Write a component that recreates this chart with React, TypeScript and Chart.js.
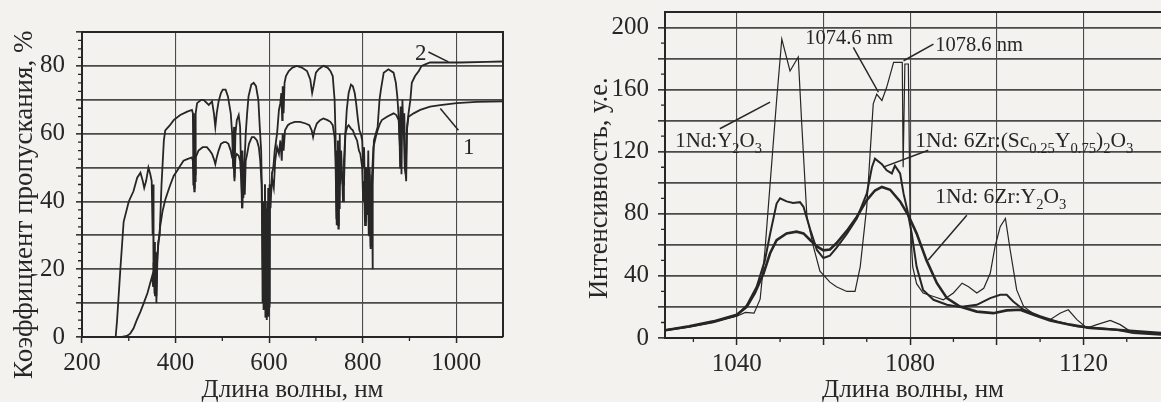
import React, { useEffect, useRef } from "react";
import { Chart, registerables } from "chart.js";

Chart.register(...registerables);

const FONT = "'Liberation Serif', 'Times New Roman', serif";
const INK = "#262626";
const GRID = "#4a4a4a";
const PAPER = "#f3f2ef";

// ---------- Left chart: transmission spectra (curves 1 and 2) ----------
const trWavelength2 = [272, 275, 282, 289, 300, 310, 318, 325, 330, 333, 337, 342, 346, 349, 351, 352, 353, 355, 356, 358, 359, 361, 363, 366, 370, 375, 378, 388, 396, 410, 425, 435, 437, 438, 439, 440, 441, 442, 443, 446, 455, 460, 471, 478, 482, 485, 488, 492, 497, 501, 507, 512, 518, 521, 523, 525, 526, 528, 531, 535, 538, 540, 542, 543, 545, 547, 550, 553, 556, 562, 567, 572, 577, 580, 583, 585, 586, 587, 588, 589, 590, 591, 592, 593, 594, 595, 596, 597, 598, 599, 600, 601, 603, 606, 609, 612, 617, 621, 624, 626, 628, 629, 631, 633, 636, 642, 650, 659, 670, 681, 688, 692, 695, 700, 706, 716, 725, 731, 736, 740, 742, 743, 744, 745, 746, 747, 748, 749, 750, 751, 752, 754, 756, 758, 760, 763, 766, 770, 775, 779, 783, 786, 790, 793, 796, 799, 801, 803, 805, 807, 808, 810, 812, 814, 815, 817, 818, 820, 821, 822, 824, 828, 832, 836, 839, 845, 855, 866, 871, 874, 877, 879, 880, 881, 883, 885, 887, 889, 891, 893, 895, 898, 902, 905, 912, 920, 926, 935, 944, 973, 1008, 1065, 1100];
const trCurve2 = [0, 5, 20, 34, 40, 43, 47, 48.5, 46, 44, 46, 50, 48, 46, 30, 45, 15, 28, 12, 25, 10, 22, 28, 30, 45, 58, 61, 62.5, 64, 65.5, 66.5, 67, 66, 50, 66, 44, 60, 48, 66, 69, 70, 70, 68.5, 69.5, 66, 62, 66, 69.5, 72, 73, 73, 71, 66, 60, 50, 62, 47, 60, 64, 65.5, 62, 50, 38, 55, 41, 50, 60, 66, 71, 74.5, 75, 74, 70, 62, 55, 40, 10, 35, 8, 30, 12, 45, 10, 38, 6, 30, 8, 40, 7, 35, 9, 45, 38, 48, 50, 55, 60, 67, 69, 72, 64, 74, 66, 75, 77, 78.5, 79.5, 80, 79.5, 78.5, 76, 72, 74, 78, 79, 80, 79.5, 78.5, 77, 70, 60, 45, 33, 55, 40, 58, 32, 55, 38, 60, 45, 55, 48, 40, 45, 60, 67, 72, 74.5, 74, 72, 69, 64, 61, 60, 58, 50, 56, 42, 34, 50, 38, 55, 30, 50, 26, 45, 40, 20, 45, 58, 60, 62, 70, 73, 78, 79, 78, 75, 71, 65, 58, 50, 68, 48, 70, 60, 66, 50, 46, 62, 66, 70, 75, 77, 78.5, 80, 80.5, 81, 81, 81, 81.2, 81.3];

const trWavelength1 = [272, 285, 296, 303, 310, 317, 325, 332, 340, 346, 350, 352, 353, 355, 356, 357, 359, 361, 363, 367, 372, 378, 384, 389, 396, 403, 410, 417, 425, 435, 437, 438, 439, 440, 441, 442, 443, 449, 458, 467, 473, 478, 482, 485, 488, 492, 497, 503, 508, 513, 518, 521, 524, 526, 528, 531, 535, 538, 541, 543, 545, 548, 550, 553, 557, 563, 568, 574, 578, 581, 584, 586, 587, 588, 589, 590, 591, 592, 593, 595, 596, 597, 598, 599, 600, 601, 602, 604, 606, 610, 613, 617, 621, 624, 627, 629, 631, 634, 640, 645, 655, 666, 678, 686, 691, 694, 697, 702, 709, 716, 725, 731, 736, 740, 742, 744, 745, 746, 747, 748, 749, 750, 752, 755, 758, 760, 763, 767, 770, 775, 779, 783, 788, 792, 795, 799, 801, 803, 805, 807, 809, 811, 813, 815, 817, 819, 823, 828, 832, 837, 841, 852, 866, 872, 877, 879, 881, 883, 886, 888, 890, 892, 894, 896, 898, 909, 923, 944, 966, 1001, 1044, 1100];
const trCurve1 = [0, 0, 0.3, 1, 2.5, 5, 7.5, 10, 13, 16, 18, 15, 22, 13, 25, 18, 12, 24, 27, 32.5, 37, 40.5, 43, 45, 47.5, 49, 50.5, 52, 52.5, 53, 52, 45, 52, 43, 50, 46, 53, 55, 56, 56, 55, 54, 52.5, 51, 53, 55, 57, 57.5, 57.5, 57, 55, 53, 52, 46, 53, 54, 53.5, 52, 45, 38, 50, 42, 52, 54, 57, 59, 59, 58, 56, 52, 45, 20, 40, 8, 38, 10, 45, 6, 40, 5, 35, 8, 44, 6, 40, 10, 45, 42, 47, 44, 52, 56, 54, 58, 52, 60, 55, 61, 62.5, 63, 63.5, 63.5, 63, 62.5, 61, 59, 61, 63, 64, 64.5, 64, 63.5, 62.5, 59, 52, 35, 50, 38, 55, 33, 52, 40, 50, 49, 45, 52, 60, 62, 62.5, 61.5, 61, 59.5, 58, 55, 54, 50, 40, 46, 33, 50, 36, 48, 30, 48, 26.6, 45, 56, 59, 61, 63, 64, 65, 66, 65.5, 64, 58, 52, 62, 65, 60, 50, 48, 60, 63, 65, 66, 67, 68, 68.4, 69, 69.4, 69.5];

const leftXTicks = [200, 400, 600, 800, 1000];
const leftYTicks = [0, 10, 20, 30, 40, 50, 60, 70, 80, 90];

// ---------- Right chart: luminescence spectra ----------
const lumWlY2O3 = [1023.5, 1029, 1034.6, 1040, 1042, 1044, 1045.4, 1046.5, 1048, 1049.2, 1050.4, 1052.3, 1054.2, 1055, 1056.2, 1057.7, 1059.2, 1061.5, 1063, 1065.4, 1067.3, 1068.5, 1070, 1071.5, 1072.3, 1073.5, 1074.6, 1076.2, 1077.7, 1078.2, 1078.4, 1078.8, 1079.6, 1080, 1080.6, 1081.5, 1083, 1085.4, 1087.7, 1090, 1092, 1093.5, 1095.4, 1097, 1098.5, 1099.6, 1100.8, 1102, 1103.1, 1104.6, 1106.2, 1109.2, 1112.3, 1114.6, 1116.5, 1118.5, 1120.8, 1123.1, 1126.2, 1128.5, 1130.8, 1133.8, 1138];
const lumY2O3 = [5.3, 7.5, 10.5, 14, 16.5, 16, 25, 56, 110, 153, 192.6, 172, 181, 138, 78, 58.8, 43, 36, 33, 30, 30, 46, 84.5, 150.8, 157, 153, 161.5, 177.6, 177.6, 177.6, 110, 176.5, 176.5, 78, 46, 35, 29, 26.7, 24.6, 29, 35.3, 33, 29, 32, 41.7, 58.8, 71.7, 77, 56.7, 31, 20.3, 14, 11.8, 16, 18.2, 11.8, 6.4, 8.6, 11.3, 8.6, 4.3, 3.2, 3];

const lumWlSc = [1023.5, 1029, 1034.6, 1040, 1042.3, 1044.6, 1046.5, 1047.7, 1049.2, 1050, 1051.5, 1053, 1054.6, 1055.4, 1057, 1058.5, 1060, 1061.5, 1063, 1065.4, 1067.7, 1070, 1071.2, 1071.9, 1073.5, 1074.6, 1075.8, 1076.5, 1077.7, 1078.5, 1079.4, 1080.4, 1081.5, 1083, 1085.4, 1088.5, 1091.5, 1095.4, 1098.5, 1100.8, 1102.3, 1103.8, 1106.2, 1110, 1113.8, 1118.5, 1123.1, 1127.7, 1131.5, 1138];
const lumSc = [5, 7.3, 10.2, 14.5, 21, 33, 50, 67, 86.6, 90, 88, 87, 87.5, 84.5, 69.5, 56.7, 51.5, 53, 58, 67, 77, 93, 110, 115.5, 112, 108, 106, 111, 106, 93, 82, 67, 46, 31, 24.6, 21.4, 20, 21.4, 25.7, 27.8, 27.8, 23.5, 18.2, 14, 10.7, 7.5, 6.4, 5.3, 3.2, 2.1];

const lumWlZrY = [1023.5, 1029, 1034.6, 1040, 1042.3, 1044.2, 1046.2, 1047.7, 1049.2, 1051.5, 1053.8, 1055.4, 1057, 1058.5, 1060, 1061.5, 1063, 1065.4, 1067.7, 1070, 1071.9, 1073.5, 1075.4, 1077.7, 1079.6, 1081.5, 1083.8, 1086.2, 1088.5, 1091.5, 1095.4, 1099.2, 1102.3, 1105.4, 1108.5, 1112.3, 1116.9, 1121.5, 1127.7, 1132.3, 1138];
const lumZrY = [5, 7.5, 10.7, 15, 20, 29, 41.7, 54.6, 63, 67.4, 68.5, 67.4, 63, 59, 56.5, 57, 61, 69, 78, 88.8, 95, 97.3, 95.5, 88, 79, 67.4, 50, 35.3, 25.7, 20.3, 17, 16, 17.8, 18.2, 15, 11.3, 8.6, 6.4, 5.3, 4.3, 3.2];

const rightXTicks = [1040, 1060, 1080, 1100, 1120];
const rightYTicks = [0, 20, 40, 60, 80, 100, 120, 140, 160, 180, 200];

// ---------- annotations (text + leader lines in data coordinates) ----------
type Seg = [string, boolean];
interface Note { segs: Seg[]; x: number; y: number; size: number; line?: number[] }

const leftNotes: Note[] = [
  { segs: [["2", false]], x: 912, y: 81.7, size: 23, line: [940.6, 84.1, 983.3, 81.2] },
  { segs: [["1", false]], x: 1014.7, y: 54.1, size: 23, line: [966, 67.4, 1004.7, 61] },
];

const rightNotes: Note[] = [
  { segs: [["1Nd:Y", false], ["2", true], ["O", false], ["3", true]], x: 1025.8, y: 122.8, size: 21, line: [1036.1, 134.8, 1047.7, 151.9] },
  { segs: [["1074.6 nm", false]], x: 1055.8, y: 189.3, size: 20.5, line: [1066.9, 187.2, 1072.7, 158.3] },
  { segs: [["1078.6 nm", false]], x: 1085.8, y: 185, size: 20.5, line: [1085.4, 189.3, 1078.5, 178.6] },
  { segs: [["1Nd: 6Zr:(Sc", false], ["0.25", true], ["Y", false], ["0.75", true], [")", false], ["2", true], ["O", false], ["3", true]], x: 1081.2, y: 122.8, size: 21.5, line: [1084.2, 120.9, 1073.8, 110.1] },
  { segs: [["1Nd: 6Zr:Y", false], ["2", true], ["O", false], ["3", true]], x: 1085.8, y: 86.8, size: 21.5, line: [1093.1, 79.1, 1084.2, 50.3] },
];

// Axis titles (trailing spaces nudge the centred rotated titles toward the bottom, as in the original)
const leftYTitle = "Коэффициент пропускания, %      ";
const rightYTitle = "Интенсивность, у.е.    ";
const xTitle = "Длина волны, нм";

const pts = (xs: number[], ys: number[]) => xs.map((x, i) => ({ x, y: ys[i] }));

function drawRich(ctx: CanvasRenderingContext2D, segs: Seg[], x: number, y: number, size: number) {
  let cx = x;
  for (const [t, sub] of segs) {
    const fs = sub ? size * 0.68 : size;
    ctx.font = `${fs}px ${FONT}`;
    ctx.fillText(t, cx, sub ? y + size * 0.28 : y);
    cx += ctx.measureText(t).width;
  }
}

function decor(opts: { full: boolean; xMinor: number; yMinor: number; xMajor: number[]; yMajor: number[]; notes: Note[] }) {
  return {
    id: "decor",
    afterDraw(chart: any) {
      const { ctx, chartArea: a, scales } = chart;
      const xs = scales.x;
      const ys = scales.y;
      ctx.save();
      ctx.strokeStyle = INK;
      ctx.lineWidth = 2;
      ctx.beginPath();
      ctx.moveTo(a.left, a.top);
      ctx.lineTo(a.right, a.top);
      if (opts.full) ctx.lineTo(a.right, a.bottom);
      ctx.stroke();
      ctx.lineWidth = 1.3;
      ctx.beginPath();
      for (let i = Math.ceil(xs.min / opts.xMinor); i * opts.xMinor < xs.max; i++) {
        const v = i * opts.xMinor;
        if (opts.xMajor.includes(v)) continue;
        const px = xs.getPixelForValue(v);
        ctx.moveTo(px, a.bottom);
        ctx.lineTo(px, a.bottom + 4);
      }
      for (let i = Math.ceil(ys.min / opts.yMinor); i * opts.yMinor < ys.max; i++) {
        const v = i * opts.yMinor;
        if (opts.yMajor.includes(v)) continue;
        const py = ys.getPixelForValue(v);
        ctx.moveTo(a.left, py);
        ctx.lineTo(a.left - 4, py);
      }
      ctx.stroke();
      ctx.fillStyle = INK;
      ctx.textBaseline = "alphabetic";
      ctx.textAlign = "left";
      ctx.lineWidth = 1.5;
      for (const n of opts.notes) {
        if (n.line) {
          ctx.beginPath();
          ctx.moveTo(xs.getPixelForValue(n.line[0]), ys.getPixelForValue(n.line[1]));
          ctx.lineTo(xs.getPixelForValue(n.line[2]), ys.getPixelForValue(n.line[3]));
          ctx.stroke();
        }
        drawRich(ctx, n.segs, xs.getPixelForValue(n.x), ys.getPixelForValue(n.y), n.size);
      }
      ctx.restore();
    },
  };
}

function axisX(min: number, max: number, ticks: number[], height: number, labelEvery: number, tl: number, pad: number) {
  return {
    type: "linear" as const,
    min,
    max,
    afterBuildTicks: (s: any) => { s.ticks = ticks.map((v) => ({ value: v })); },
    afterFit: (s: any) => { s.height = height; s.paddingLeft = 0; s.paddingRight = 0; },
    ticks: { autoSkip: false, maxRotation: 0, padding: pad, color: INK, font: { size: 25, family: FONT }, callback: (v: any) => (v % labelEvery === 0 ? String(v) : "") },
    grid: { color: GRID, lineWidth: 1.1, tickLength: tl, tickColor: INK, tickWidth: 1.5 },
    border: { color: INK, width: 2 },
    title: { display: true, text: xTitle, color: INK, font: { size: 25, family: FONT }, padding: { top: 0, bottom: -3 } },
  };
}

function axisY(min: number, max: number, ticks: number[], width: number, labelEvery: number, tl: number, pad: number, title: string, titleSize: number, titlePad: number) {
  return {
    min,
    max,
    afterBuildTicks: (s: any) => { s.ticks = ticks.map((v) => ({ value: v })); },
    afterFit: (s: any) => { s.width = width; s.paddingTop = 0; s.paddingBottom = 0; },
    ticks: { autoSkip: false, padding: pad, color: INK, font: { size: 25, family: FONT }, callback: (v: any) => (v % labelEvery === 0 ? String(v) : "") },
    grid: { color: GRID, lineWidth: 1.7, tickLength: tl, tickColor: INK, tickWidth: 1.5 },
    border: { color: INK, width: 2 },
    title: { display: true, text: title, color: INK, font: { size: titleSize, family: FONT }, padding: { top: titlePad, bottom: 0 } },
  };
}

export default function App() {
  const leftRef = useRef<HTMLCanvasElement>(null);
  const rightRef = useRef<HTMLCanvasElement>(null);

  useEffect(() => {
    Chart.defaults.font.family = FONT;
    const common = { pointRadius: 0, tension: 0, borderColor: INK, fill: false };
    const left = new Chart(leftRef.current as HTMLCanvasElement, {
      type: "line",
      data: {
        datasets: [
          { ...common, data: pts(trWavelength2, trCurve2), borderWidth: 1.8 },
          { ...common, data: pts(trWavelength1, trCurve1), borderWidth: 1.8 },
        ],
      },
      options: {
        animation: false,
        responsive: false,
        layout: { padding: { left: 0, top: 32, right: 57, bottom: 0 } },
        plugins: { legend: { display: false }, tooltip: { enabled: false } },
        scales: {
          x: axisX(200, 1100, leftXTicks, 65, 200, 6, 5) as any,
          y: axisY(0, 90, leftYTicks, 82, 20, 6, 11, leftYTitle, 27, 9) as any,
        },
      },
      plugins: [decor({ full: true, xMinor: 100, yMinor: 2.5, xMajor: leftXTicks, yMajor: leftYTicks, notes: leftNotes })],
    });
    const right = new Chart(rightRef.current as HTMLCanvasElement, {
      type: "line",
      data: {
        datasets: [
          { ...common, data: pts(lumWlY2O3, lumY2O3), borderWidth: 1.2 },
          { ...common, data: pts(lumWlSc, lumSc), borderWidth: 2 },
          { ...common, data: pts(lumWlZrY, lumZrY), borderWidth: 2.6 },
        ],
      },
      options: {
        animation: false,
        responsive: false,
        layout: { padding: { left: 0, top: 12, right: 0, bottom: 0 } },
        plugins: { legend: { display: false }, tooltip: { enabled: false } },
        scales: {
          x: axisX(1023.45, 1137.9, rightXTicks, 64, 40, 7, 4) as any,
          y: axisY(0, 210, rightYTicks, 85, 40, 7, 9, rightYTitle, 26.5, 4) as any,
        },
      },
      plugins: [decor({ full: false, xMinor: 10, yMinor: 10, xMajor: rightXTicks, yMajor: rightYTicks, notes: rightNotes })],
    });
    return () => {
      left.destroy();
      right.destroy();
    };
  }, []);

  return (
    <div style={{ position: "fixed", left: 0, top: 0, width: 1161, height: 402, background: PAPER, overflow: "hidden" }}>
      <canvas ref={leftRef} width={560} height={402} style={{ position: "absolute", left: 0, top: 0, width: 560, height: 402 }} />
      <canvas ref={rightRef} width={581} height={402} style={{ position: "absolute", left: 580, top: 0, width: 581, height: 402 }} />
    </div>
  );
}
